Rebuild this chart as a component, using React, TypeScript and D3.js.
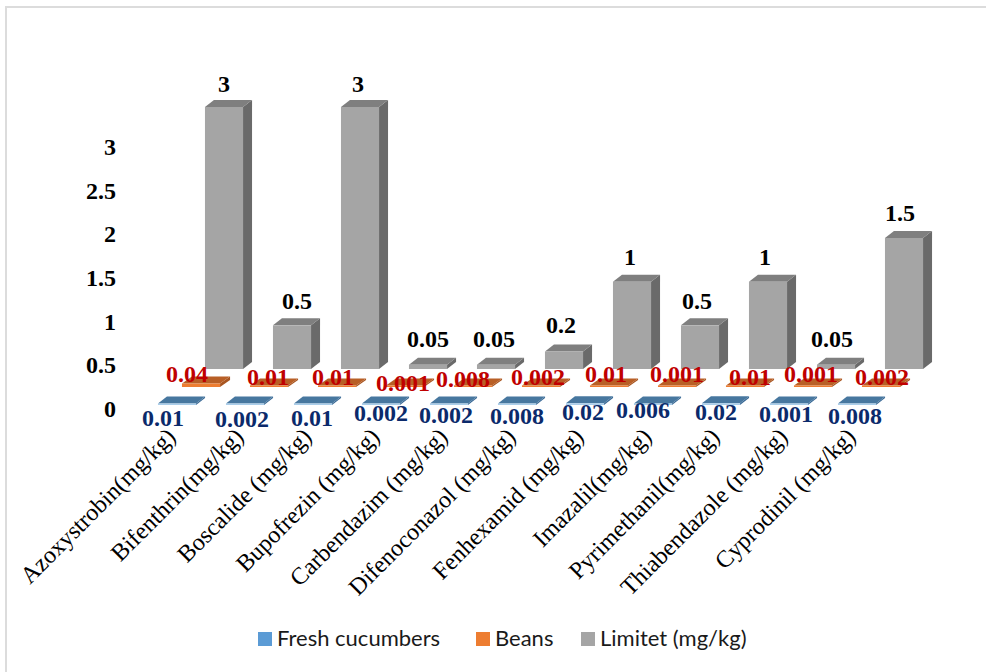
import React from "react";
import * as d3 from "d3";

const categories = ["Azoxystrobin(mg/kg)", "Bifenthrin(mg/kg)", "Boscalide (mg/kg)", "Bupofrezin (mg/kg)", "Carbendazim (mg/kg)", "Difenoconazol (mg/kg)", "Fenhexamid (mg/kg)", "Imazalil(mg/kg)", "Pyrimethanil(mg/kg)", "Thiabendazole (mg/kg)", "Cyprodinil (mg/kg)"];
const freshCucumbers = [0.01, 0.002, 0.01, 0.002, 0.002, 0.008, 0.02, 0.006, 0.02, 0.001, 0.008];
const beans = [0.04, 0.01, 0.01, 0.001, 0.008, 0.002, 0.01, 0.001, 0.01, 0.001, 0.002];
const limitet = [3, 0.5, 3, 0.05, 0.05, 0.2, 1, 0.5, 1, 0.05, 1.5];
const yTicks = [0, 0.5, 1, 1.5, 2, 2.5, 3];

// hand-placed label nudges (centre x, baseline y), as in the source chart
const blueLabelPos = [[163, 426], [242, 427], [312, 426], [381, 421], [446, 423], [517, 424], [583, 420], [643, 418], [716, 420], [786, 422], [855, 424]];
const orangeLabelPos = [[187, 382], [268, 385], [333, 385], [403, 391], [463, 387], [538, 385], [606, 382], [677, 382], [750, 385], [811, 382], [882, 385]];
const greyLabelPos = [[224, 92], [297, 309], [358, 92], [428, 347], [494, 347], [561, 333], [630, 265], [697, 309], [765, 265], [832, 347], [900, 221]];

const W = 986, H = 672;
const serif = "'Liberation Serif', 'Times New Roman', serif";
const unit = d3.scaleLinear().domain([0, 3]).range([0, 262]);
const xBand = d3.scaleBand<number>().domain(d3.range(categories.length)).range([136, 884]).paddingInner(0.44).paddingOuter(0.22);

function Bar3D({ x, w, base, h, dx, dy, front, top, side }: any) {
  const y = base - h;
  return (
    <g>
      <polygon points={`${x + w},${y} ${x + w + dx},${y - dy} ${x + w + dx},${base - dy} ${x + w},${base}`} fill={side} />
      <polygon points={`${x},${y} ${x + dx},${y - dy} ${x + w + dx},${y - dy} ${x + w},${y}`} fill={top} />
      <rect x={x} y={y} width={w} height={h} fill={front} />
    </g>
  );
}

const rows = [
  { values: freshCucumbers, shift: 7, base: 405, dx: 9, dy: 7, front: "#a9cdea", top: "#47779f", side: "#3a6a96", color: "#0b2a6b", pos: blueLabelPos },
  { values: beans, shift: 31, base: 387, dx: 10, dy: 7, front: "#ed7d31", top: "#b85f26", side: "#a85520", color: "#c00000", pos: orangeLabelPos },
  { values: limitet, shift: 54, base: 369, dx: 9, dy: 7, front: "#a5a5a5", top: "#7f7f7f", side: "#6a6a6a", color: "#000000", pos: greyLabelPos },
];

const legendItems: [string, string, number][] = [["Fresh cucumbers", "#5b9bd5", 258], ["Beans", "#ed7d31", 476], ["Limitet (mg/kg)", "#a5a5a5", 581]];

export default function App() {
  const bw = xBand.bandwidth();
  return (
    <svg width={W} height={H} style={{ position: "absolute", left: 0, top: 0, background: "#fff" }}>
      <rect x={6} y={7} width={W} height={H} fill="#fff" stroke="#dcdcdc" strokeWidth={2} />
      {[...rows].reverse().map((r, ri) => (
        <g key={ri}>
          {r.values.map((v, i) => (
            <Bar3D key={i} x={xBand(i)! + r.shift} w={bw} base={r.base} h={Math.max(1.5, unit(v))} dx={r.dx} dy={r.dy} front={r.front} top={r.top} side={r.side} />
          ))}
        </g>
      ))}
      {yTicks.map((t) => (
        <text key={t} x={116} y={417 - unit(t)} textAnchor="end" fontFamily={serif} fontWeight="bold" fontSize={24}>{t}</text>
      ))}
      {rows.map((r, ri) => r.values.map((v, i) => (
        <text key={`${ri}-${i}`} x={r.pos[i][0]} y={r.pos[i][1]} textAnchor="middle" fontFamily={serif} fontWeight="bold" fontSize={24} fill={r.color}>{v}</text>
      )))}
      {categories.map((c, i) => (
        <text key={c} transform={`translate(${xBand(i)! + 26},438) rotate(-45)`} textAnchor="end" fontFamily={serif} fontSize={24} fill="#000">{c}</text>
      ))}
      {legendItems.map(([t, col, x]) => (
        <g key={t}>
          <rect x={x} y={632} width={14} height={14} fill={col} />
          <text x={x + 19} y={646} fontFamily="Lato, 'Open Sans', sans-serif" fontSize={22} fill="#1a1a1a">{t}</text>
        </g>
      ))}
    </svg>
  );
}
